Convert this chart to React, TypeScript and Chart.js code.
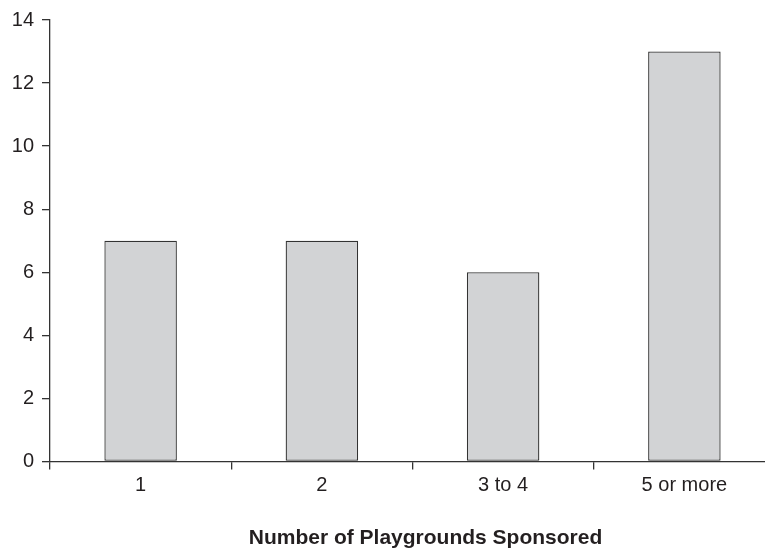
import React, { useEffect, useRef } from "react";
import { Chart, registerables } from "chart.js";

Chart.register(...registerables);

const categories = ["1", "2", "3 to 4", "5 or more"];
const counts = [7, 7, 6, 13];
const yTicks = [0, 2, 4, 6, 8, 10, 12, 14];
const xTitle = "Number of Playgrounds Sponsored";

const FONT = "'Liberation Sans', Arial, sans-serif";

export default function App() {
  const ref = useRef<HTMLCanvasElement | null>(null);

  useEffect(() => {
    const canvas = ref.current;
    if (!canvas) return;
    const titlePlugin = {
      id: "bottomTitle",
      afterDraw(chart: any) {
        const ctx = chart.ctx;
        ctx.save();
        ctx.font = `bold 21px ${FONT}`;
        ctx.fillStyle = "#231f20";
        ctx.textAlign = "center";
        ctx.textBaseline = "alphabetic";
        const a = chart.chartArea;
        ctx.fillText(xTitle, (a.left + a.right) / 2 + 13, 544);
        ctx.restore();
      },
    };
    const chart = new Chart(canvas, {
      type: "bar",
      data: {
        labels: categories,
        datasets: [
          {
            data: counts,
            backgroundColor: "#d2d3d5",
            borderColor: "#333333",
            borderWidth: 1.3,
            borderSkipped: false,
            barPercentage: 0.4,
            categoryPercentage: 1,
          },
        ],
      },
      options: {
        animation: false,
        responsive: false,
        maintainAspectRatio: false,
        layout: { padding: { top: 15, right: 5, left: 0, bottom: 0 } },
        plugins: { legend: { display: false }, tooltip: { enabled: false } },
        scales: {
          x: {
            grid: {
              offset: true,
              drawOnChartArea: false,
              drawTicks: true,
              tickLength: 8,
              color: "#333333",
              lineWidth: 1.3,
            },
            border: { display: true, color: "#333333", width: 1.3 },
            ticks: {
              color: "#231f20",
              padding: 4,
              font: { family: FONT, size: 20 },
            },
            afterFit(scale: any) {
              scale.height = 87.5;
            },
          },
          y: {
            min: 0,
            max: 14,
            afterBuildTicks(scale: any) {
              scale.ticks = yTicks.map((v) => ({ value: v }));
            },
            grid: {
              drawOnChartArea: false,
              drawTicks: true,
              tickLength: 8,
              color: "#333333",
              lineWidth: 1.3,
            },
            border: { display: true, color: "#333333", width: 1.3 },
            ticks: {
              color: "#231f20",
              padding: 8,
              font: { family: FONT, size: 20 },
            },
            afterFit(scale: any) {
              scale.width = 50;
            },
          },
        },
      },
      plugins: [titlePlugin],
    });
    return () => chart.destroy();
  }, []);

  return (
    <div
      style={{
        position: "fixed",
        left: 0,
        top: 0,
        width: 765,
        height: 549,
        overflow: "hidden",
        background: "#fff",
      }}
    >
      <canvas ref={ref} width={780} height={549} style={{ width: 780, height: 549, display: "block" }} />
    </div>
  );
}
